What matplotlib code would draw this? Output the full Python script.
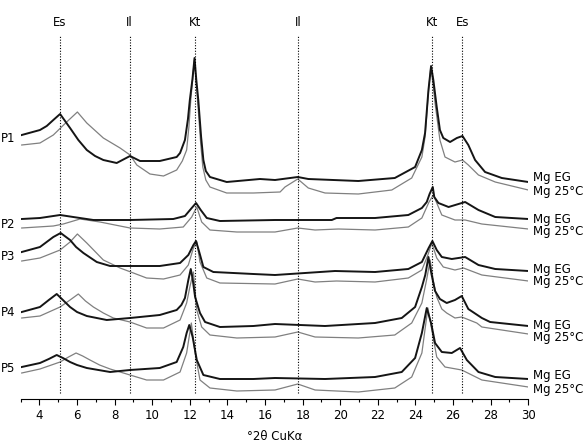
import matplotlib
matplotlib.use("Agg")
import matplotlib.pyplot as plt
from matplotlib.ticker import MultipleLocator

# XRD traces: 2theta (deg) and intensity (arbitrary, offset stacked)
p1_eg_x = [3.06, 4.03, 4.39, 4.74, 5.10, 5.63, 6.07, 6.52, 6.96, 7.40, 8.11, 8.82, 9.35, 10.40, 11.30, 11.48, 11.74,
           11.90, 12.00, 12.14, 12.25, 12.34, 12.45, 12.60, 12.72, 12.85, 13.07, 13.96, 15.73, 16.53, 17.74, 18.30,
           20.96, 22.90, 23.98, 24.34, 24.51, 24.69, 24.83, 24.95, 25.13, 25.30, 25.48, 25.84, 26.20, 26.50, 26.81,
           27.17, 27.70, 28.59, 30.00]
p1_eg_y = [264, 269, 273, 279, 285, 271, 259, 249, 243, 239, 236, 243, 238, 238, 242, 246, 259,
           280, 299, 320, 341, 320, 299, 262, 239, 228, 222, 217, 220, 219, 222, 220,
           218, 221, 232, 249, 266, 309, 333, 319, 292, 269, 261, 257, 261, 263, 254,
           239, 227, 221, 217]
p1_rt_x = [3.06, 4.03, 4.74, 5.45, 6.02, 6.52, 7.40, 8.29, 8.82, 9.18, 9.88, 10.60, 11.30, 11.60, 11.83, 11.95, 12.05,
           12.24, 12.45, 12.58, 12.69, 12.85, 13.07, 13.96, 15.38, 16.80, 17.06, 17.74, 18.30, 19.19, 20.96, 22.74,
           23.80, 24.34, 24.51, 24.68, 24.81, 24.93, 25.04, 25.30, 25.57, 26.10, 26.50, 26.81, 27.35, 28.24, 30.00]
p1_rt_y = [254, 256, 264, 277, 287, 276, 261, 251, 244, 234, 225, 223, 229, 238, 249, 272, 299,
           339, 289, 255, 232, 219, 212, 206, 206, 207, 212, 220, 211, 206, 205, 209,
           221, 242, 262, 305, 331, 316, 296, 259, 242, 237, 239, 234, 224, 217, 209]

p2_eg_x = [3.06, 4.03, 5.10, 5.80, 6.87, 8.82, 11.12, 11.74, 12.10, 12.33, 12.58, 12.90, 13.60, 16.53, 19.55, 19.80,
           21.85, 23.62, 24.34, 24.60, 24.75, 24.92, 25.00, 25.22, 25.76, 26.64, 27.35, 28.24, 30.00]
p2_eg_y = [180, 181, 184, 182, 179, 179, 180, 183, 191, 196, 189, 181, 178, 179, 179, 181,
           181, 184, 191, 197, 205, 212, 202, 196, 192, 197, 189, 182, 180]
p2_rt_x = [3.06, 4.74, 5.27, 6.16, 7.22, 8.82, 10.40, 11.65, 12.10, 12.37, 12.63, 13.07, 14.50, 16.53, 17.74, 18.66,
           19.90, 21.85, 23.62, 24.34, 24.72, 24.95, 25.40, 26.10, 26.64, 27.53, 30.00]
p2_rt_y = [171, 173, 175, 180, 177, 171, 170, 172, 182, 192, 177, 169, 167, 167, 171, 169,
           170, 169, 172, 181, 197, 204, 184, 179, 179, 175, 170]

p3_eg_x = [3.06, 4.03, 4.74, 5.13, 5.63, 5.95, 6.34, 7.05, 7.76, 8.82, 10.40, 11.48, 11.92, 12.19, 12.33, 12.50, 12.72,
           13.25, 15.38, 16.53, 19.72, 21.85, 23.62, 24.34, 24.70, 24.90, 25.13, 25.40, 25.93, 26.64, 27.35, 28.24, 30.00]
p3_eg_y = [147, 152, 162, 166, 159, 152, 146, 137, 133, 133, 133, 136, 144, 154, 158, 147, 132,
           127, 125, 124, 128, 127, 130, 137, 151, 158, 149, 142, 140, 142, 134, 130, 128]
p3_rt_x = [3.06, 4.03, 5.10, 5.63, 6.02, 6.52, 7.40, 8.29, 9.00, 9.70, 10.60, 11.48, 11.92, 12.19, 12.37, 12.54,
           12.90, 13.60, 16.53, 17.74, 18.66, 19.80, 21.85, 23.62, 24.34, 24.66, 24.87, 25.13, 25.48, 26.10, 26.55,
           27.53, 30.00]
p3_rt_y = [138, 141, 149, 157, 165, 156, 139, 131, 126, 121, 120, 124, 134, 151, 157, 137,
           121, 116, 115, 120, 117, 118, 117, 121, 129, 144, 156, 141, 132, 129, 131,
           124, 118]

p4_eg_x = [3.06, 4.03, 4.50, 4.92, 5.25, 5.63, 6.00, 6.52, 7.58, 8.82, 10.40, 11.30, 11.55, 11.74, 11.92, 12.05, 12.15,
           12.28, 12.54, 12.81, 13.60, 15.38, 16.53, 19.19, 21.85, 23.27, 23.98, 24.34, 24.52, 24.69, 24.85, 25.04,
           25.30, 25.66, 26.10, 26.46, 26.81, 27.53, 27.97, 30.00]
p4_eg_y = [87, 92, 99, 105, 99, 92, 87, 83, 79, 81, 84, 89, 94, 101, 119, 130, 120,
           102, 86, 77, 72, 73, 75, 73, 76, 81, 92, 112, 124, 142, 125, 108,
           100, 96, 99, 103, 90, 81, 77, 73]
p4_rt_x = [3.06, 4.03, 5.10, 5.63, 6.07, 6.45, 6.87, 7.40, 7.93, 8.82, 9.70, 10.60, 11.48, 11.83, 12.00, 12.19, 12.37,
           12.63, 13.07, 14.50, 16.53, 17.74, 18.66, 20.96, 22.90, 23.80, 24.34, 24.60, 24.78, 24.95, 25.13, 25.40,
           25.66, 26.10, 26.46, 27.26, 27.53, 30.00]
p4_rt_y = [81, 83, 92, 99, 105, 98, 92, 86, 81, 77, 71, 71, 79, 96, 112, 127, 89,
           72, 64, 61, 62, 67, 62, 61, 64, 76, 96, 120, 139, 118, 102, 90,
           86, 81, 82, 76, 72, 65]

p5_eg_x = [3.06, 4.03, 4.50, 4.92, 5.25, 5.63, 6.00, 6.52, 7.76, 8.82, 10.40, 11.30, 11.65, 11.83, 11.97, 12.15, 12.37,
           12.72, 13.60, 15.38, 16.53, 19.19, 21.85, 23.27, 23.98, 24.34, 24.60, 24.83, 25.04, 25.40, 25.93, 26.37,
           26.73, 27.35, 28.24, 30.00]
p5_eg_y = [32, 36, 40, 44, 41, 37, 34, 31, 27, 29, 31, 37, 52, 66, 74, 62, 39,
           24, 20, 20, 21, 20, 22, 27, 41, 66, 91, 76, 56, 47, 46, 51,
           39, 27, 22, 20]
p5_rt_x = [3.06, 4.03, 5.10, 5.55, 5.95, 6.30, 6.69, 7.20, 7.76, 8.82, 9.70, 10.60, 11.48, 11.83, 12.08, 12.28, 12.54,
           13.07, 14.50, 16.53, 17.74, 18.66, 20.96, 22.90, 23.80, 24.34, 24.66, 24.87, 25.13, 25.57, 26.46, 27.53,
           30.00]
p5_rt_y = [26, 30, 37, 42, 46, 43, 39, 34, 30, 24, 19, 19, 27, 46, 76, 46, 19,
           11, 8, 9, 15, 9, 7, 11, 22, 46, 91, 69, 42, 32, 29, 19,
           12]

samples = ["P1", "P2", "P3", "P4", "P5"]
mineral_pos = [5.1, 8.8, 12.3, 17.75, 24.9, 26.5]
mineral_names = ["Es", "Il", "Kt", "Il", "Kt", "Es"]

eg_traces = [(p1_eg_x, p1_eg_y), (p2_eg_x, p2_eg_y), (p3_eg_x, p3_eg_y), (p4_eg_x, p4_eg_y), (p5_eg_x, p5_eg_y)]
rt_traces = [(p1_rt_x, p1_rt_y), (p2_rt_x, p2_rt_y), (p3_rt_x, p3_rt_y), (p4_rt_x, p4_rt_y), (p5_rt_x, p5_rt_y)]

# label positions (layout only)
sample_label_y = [260, 175, 142, 86, 31]
eg_label_y = [222, 180, 129, 73, 23]
rt_label_y = [208, 168, 117, 61, 10]

W, H = 588, 442
fig = plt.figure(figsize=(W / 100, H / 100), dpi=100)
ax = fig.add_axes([20.6 / W, 1 - 399 / H, (528.3 - 20.6) / W, (399 - 30) / H])

fs = 8.5
for (xr, yr), (xe, ye) in zip(rt_traces, eg_traces):
    ax.plot(xr, yr, color="#808080", lw=0.9, solid_joinstyle="round")
    ax.plot(xe, ye, color="#151515", lw=1.4, solid_joinstyle="round")

ax.vlines(mineral_pos, 6, 364, colors="k", linestyles=(0, (1, 1.5)), lw=0.8)
for xp, name in zip(mineral_pos, mineral_names):
    ax.text(xp, 377, name, ha="center", va="center", fontsize=fs, clip_on=False)

for name, yl in zip(samples, sample_label_y):
    ax.text(1.96, yl, name, ha="left", va="center", fontsize=fs, clip_on=False)
for ye, yr in zip(eg_label_y, rt_label_y):
    ax.text(30.24, ye, "Mg EG", ha="left", va="center", fontsize=fs, clip_on=False)
    ax.text(30.24, yr, "Mg 25°C", ha="left", va="center", fontsize=fs, clip_on=False)

ax.set_xlim(3, 30)
ax.set_ylim(0, 369)
ax.xaxis.set_minor_locator(MultipleLocator(1))
ax.set_xticks(range(4, 31, 2))
ax.tick_params(axis="x", which="major", length=4, width=0.8, pad=3, labelsize=fs)
ax.tick_params(axis="x", which="minor", length=2.5, width=0.8)
ax.set_yticks([])
for s in ["left", "top", "right"]:
    ax.spines[s].set_visible(False)
ax.spines["bottom"].set_linewidth(0.8)
ax.set_xlabel("°2θ CuKα", fontsize=fs, labelpad=6)

fig.savefig("out.png", dpi=100)
